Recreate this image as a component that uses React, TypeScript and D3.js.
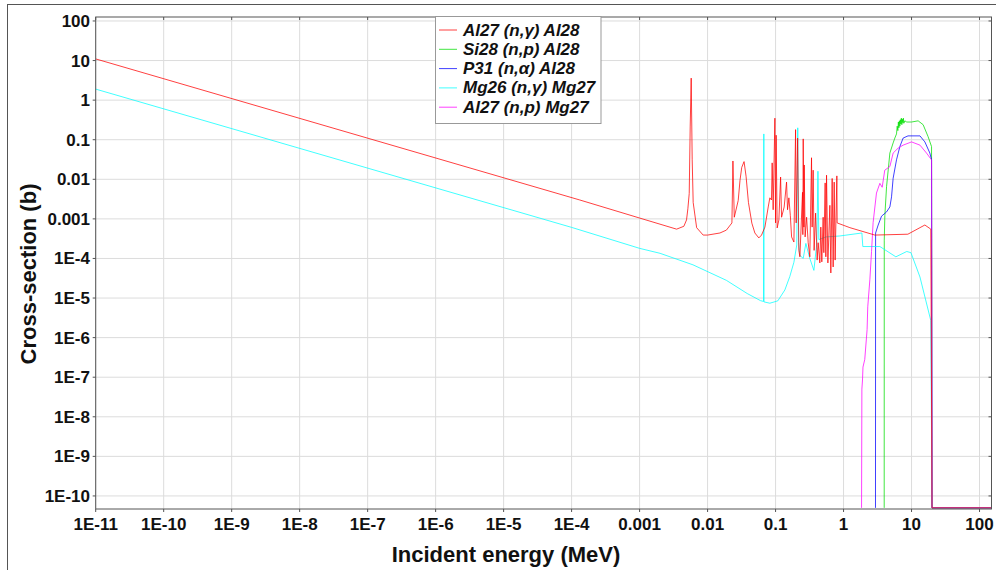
import * as d3 from 'd3';

const width = 996;
const height = 570;
const plot = {left: 95.7, right: 991.5, top: 17, bottom: 509};

// tick values and their labels
const xTicks = [1e-11, 1e-10, 1e-9, 1e-8, 1e-7, 1e-6, 1e-5, 1e-4, 1e-3, 1e-2, 1e-1, 1, 10, 100];
const xTickLabels = ['1E-11', '1E-10', '1E-9', '1E-8', '1E-7', '1E-6', '1E-5', '1E-4', '0.001', '0.01', '0.1', '1', '10', '100'];
const yTicks = [1e-10, 1e-9, 1e-8, 1e-7, 1e-6, 1e-5, 1e-4, 1e-3, 1e-2, 1e-1, 1, 10, 100];
const yTickLabels = ['1E-10', '1E-9', '1E-8', '1E-7', '1E-6', '1E-5', '1E-4', '0.001', '0.01', '0.1', '1', '10', '100'];

// zero cross-section drawn at the bottom of the log axis
const FLOOR = 5e-11;

// [energy MeV, cross-section b]
const al27ng = [
    [1e-11, 11], [1.32e-4, 3.0e-3], [1e-3, 1.05e-3], [3.5e-3, 5.5e-4], [4.48e-3, 6.5e-4], [4.9e-3, 9.4e-4],
    [5.13e-3, 1.8e-3], [5.37e-3, 4.4e-3], [5.55e-3, 0.21], [5.74e-3, 3.6], [5.94e-3, 0.031],
    [6.14e-3, 2.6e-3], [6.9e-3, 6e-4], [8.6e-3, 3.9e-4], [0.01, 3.9e-4], [0.0152, 4.4e-4],
    [0.0189, 5.2e-4], [0.0228, 7.9e-4], [0.0236, 0.029], [0.0247, 1.1e-3], [0.0282, 2.9e-3],
    [0.030, 9.5e-3], [0.0318, 0.02], [0.0344, 0.028], [0.0368, 0.012], [0.0399, 2.6e-3],
    [0.0448, 7.8e-4], [0.0496, 4.4e-4], [0.0567, 3.3e-4], [0.0622, 3.9e-4], [0.0697, 6.2e-4],
    [0.078, 2.0e-3], [0.0824, 3.4e-3], [0.087, 3.0e-3], [0.0891, 0.026], [0.0922, 1.7e-3],
    [0.0977, 0.35], [0.1, 7.9e-4], [0.102, 0.13], [0.1056, 5.9e-4], [0.1119, 9.4e-4],
    [0.1186, 0.0114], [0.1226, 1.1e-3], [0.1338, 2.0e-3], [0.1451, 8.5e-3], [0.150, 1.7e-3],
    [0.157, 3.4e-3], [0.165, 1.2e-3], [0.172, 3.5e-4], [0.186, 2.6e-4], [0.197, 0.18],
    [0.201, 7.9e-4], [0.211, 0.11], [0.220, 1.6e-4], [0.228, 1.1e-4], [0.249, 4.7e-3],
    [0.252, 4.0e-4], [0.255, 0.105], [0.261, 6.2e-4], [0.264, 0.023], [0.272, 3.5e-4],
    [0.286, 1.1e-3], [0.302, 2.5e-4], [0.319, 1.1e-4], [0.338, 0.035], [0.345, 6.2e-4],
    [0.357, 0.017], [0.369, 1.6e-4], [0.388, 1.4e-3], [0.409, 9.1e-5], [0.423, 2.5e-4],
    [0.448, 7.7e-5], [0.463, 6.2e-4], [0.479, 8.2e-5], [0.501, 1.1e-3], [0.513, 1.4e-4],
    [0.536, 8.1e-3], [0.549, 1.1e-4], [0.562, 0.0127], [0.588, 7.7e-5], [0.629, 2.2e-3],
    [0.650, 4.3e-5], [0.680, 0.0105], [0.703, 6.1e-5], [0.728, 8.5e-3], [0.752, 9.1e-5],
    [0.797, 0.0122], [0.805, 7.9e-4], [1.24, 6.0e-4], [2.89, 3.9e-4], [8.83, 4.1e-4],
    [15.7, 7.0e-4], [19.2, 5.5e-4], [20, FLOOR], [150, FLOOR],
];

const si28np = [
    [3.96, FLOOR], [3.97, 2.9e-4], [4.05, 1.2e-3], [4.29, 6.5e-3], [4.8, 0.046], [5.36, 0.083],
    [5.68, 0.11], [6.01, 0.14], [6.15, 0.22], [6.29, 0.17], [6.4, 0.28], [6.51, 0.2], [6.62, 0.3],
    [6.73, 0.22], [6.85, 0.32], [6.96, 0.25], [7.08, 0.35], [7.2, 0.24], [7.32, 0.33], [7.45, 0.27],
    [7.58, 0.35], [7.7, 0.26], [7.96, 0.3], [8.5, 0.28], [10.0, 0.28], [12.5, 0.3], [14.8, 0.24],
    [17.5, 0.12], [19.7, 0.067], [20, FLOOR], [150, FLOOR],
];

const p31na = [
    [2.95, FLOOR], [2.96, 4.4e-4], [3.23, 7.0e-4], [3.62, 1.17e-3], [4.29, 1.5e-3], [4.8, 2.0e-3],
    [5.08, 3.6e-3], [5.36, 0.0106], [6.01, 0.031], [6.73, 0.067], [7.52, 0.11], [8.87, 0.125],
    [13.3, 0.125], [15.7, 0.088], [18.6, 0.046], [19.7, 0.031], [20, FLOOR], [150, FLOOR],
];

const mg26ng = [
    [1e-11, 1.9], [1e-4, 6.1e-4], [1e-3, 1.8e-4], [2e-3, 1.35e-4], [6.1e-3, 6.9e-5], [0.0189, 2.8e-5],
    [0.0383, 1.3e-5], [0.06, 8.6e-6],
    [0.0665, 8.2e-6], [0.0672, 0.14], [0.0676, 8.0e-6], [0.0824, 7.4e-6], [0.108, 8.5e-6],
    [0.137, 1.6e-5], [0.162, 3.5e-5], [0.186, 8e-5], [0.205, 2.2e-4], [0.212, 0.2], [0.218, 2.5e-4],
    [0.228, 1.2e-4], [0.255, 1.0e-4], [0.279, 2.4e-4], [0.319, 1.0e-4], [0.366, 5e-5],
    [0.405, 2.5e-4], [0.42, 0.016], [0.433, 3e-4], [0.55, 3.5e-4], [0.88, 3.7e-4], [1.86, 4.4e-4],
    [1.92, 2.0e-4], [3.42, 2.0e-4], [5.88, 1.1e-4], [8.5, 1.5e-4], [9.8, 1.4e-4], [13.3, 3.4e-5],
    [19.2, 2.7e-6], [20, FLOOR], [150, FLOOR],
];

const al27np = [
    [1.84, FLOOR], [1.86, 5e-8], [1.90, 8.5e-8], [1.93, 1.8e-7], [2.05, 2.8e-7], [2.22, 1.6e-6],
    [2.27, 6e-6], [2.44, 3e-5], [2.58, 1.5e-4], [2.72, 8e-4], [3.05, 4.5e-3], [3.42, 7.9e-3],
    [3.70, 6.3e-3], [4.04, 0.017], [4.8, 0.021], [5.36, 0.046], [6.33, 0.061], [7.52, 0.073],
    [10.0, 0.088], [13.3, 0.073], [16.6, 0.046], [19.7, 0.031], [20, FLOOR], [150, FLOOR],
];

const seriesNames = ['Al27 (n,γ) Al28', 'Si28 (n,p) Al28', 'P31 (n,α) Al28', 'Mg26 (n,γ) Mg27', 'Al27 (n,p) Mg27'];
const seriesData = [al27ng, si28np, p31na, mg26ng, al27np];
const seriesColors = ['#ff0000', '#00dd00', '#0000ff', '#00ffff', '#ff00ff'];
// red is painted last, on top
const drawOrder = [1, 2, 3, 4, 0];

export default function App() {
    const x = d3.scaleLog().domain([1e-11, 150]).range([plot.left, plot.right]);
    const y = d3.scaleLog().domain([4.68e-11, 126]).range([plot.bottom, plot.top]);

    const line = d3.line<number[]>()
        .x(d => x(d[0]))
        .y(d => y(d[1]));

    const font = '"Liberation Sans", Arial, sans-serif';
    const pw = plot.right - plot.left;
    const ph = plot.bottom - plot.top;

    return (
        <svg width={width} height={height} style={{position: 'absolute', left: 0, top: 0, background: '#fff'}}
             fontFamily={font}>
            <rect x={7.5} y={4.5} width={1000} height={600} fill="#fff" stroke="#555" />
            <defs>
                <clipPath id="plotclip">
                    <rect x={plot.left} y={plot.top} width={pw} height={ph} />
                </clipPath>
            </defs>

            {/* grid */}
            {xTicks.map(t => (
                <line key={'gx' + t} x1={x(t)} x2={x(t)} y1={plot.top} y2={plot.bottom} stroke="#dcdcdc" />
            ))}
            {yTicks.map(t => (
                <line key={'gy' + t} x1={plot.left} x2={plot.right} y1={y(t)} y2={y(t)} stroke="#dcdcdc" />
            ))}

            {/* series */}
            <g clipPath="url(#plotclip)">
                {drawOrder.map(i => (
                    <path key={seriesNames[i]} d={line(seriesData[i] as number[][]) || ''} fill="none"
                          stroke={seriesColors[i]} strokeWidth={1} strokeOpacity={0.75} />
                ))}
            </g>

            {/* frame and ticks */}
            <rect x={plot.left} y={plot.top} width={pw} height={ph} fill="none" stroke="#555" />
            {xTicks.map(t => (
                <g key={'tx' + t}>
                    <line x1={x(t)} x2={x(t)} y1={plot.bottom} y2={plot.bottom + 3} stroke="#555" />
                    <line x1={x(t)} x2={x(t)} y1={plot.top} y2={plot.top + 3} stroke="#555" />
                </g>
            ))}
            {yTicks.map(t => (
                <g key={'ty' + t}>
                    <line x1={plot.left - 3} x2={plot.left} y1={y(t)} y2={y(t)} stroke="#555" />
                    <line x1={plot.right - 3} x2={plot.right} y1={y(t)} y2={y(t)} stroke="#555" />
                </g>
            ))}

            {/* tick labels */}
            {xTicks.map((t, i) => (
                <text key={'lx' + t} x={x(t)} y={529.5} textAnchor="middle" fontSize={17} fontWeight="bold"
                      fill="#111">{xTickLabels[i]}</text>
            ))}
            {yTicks.map((t, i) => (
                <text key={'ly' + t} x={90} y={y(t) + 6} textAnchor="end" fontSize={17} fontWeight="bold"
                      fill="#111">{yTickLabels[i]}</text>
            ))}

            {/* axis titles */}
            <text x={506} y={562} textAnchor="middle" fontSize={22} fontWeight="bold" fill="#111">
                Incident energy (MeV)
            </text>
            <text transform={`translate(36,274) rotate(-90)`} textAnchor="middle" fontSize={22} fontWeight="bold"
                  fill="#111">
                Cross-section (b)
            </text>

            {/* legend */}
            <rect x={435.5} y={16.5} width={165.5} height={107} fill="#fff" stroke="#999" />
            {seriesNames.map((name, i) => (
                <g key={'lg' + name} transform={`translate(0,${i * 19.3})`}>
                    <line x1={439} x2={457} y1={30} y2={30} stroke={seriesColors[i]} strokeOpacity={0.75} />
                    <text x={463} y={35.5} fontSize={17} fontWeight="bold" fontStyle="italic" fill="#111">
                        {name}
                    </text>
                </g>
            ))}
        </svg>
    );
}
